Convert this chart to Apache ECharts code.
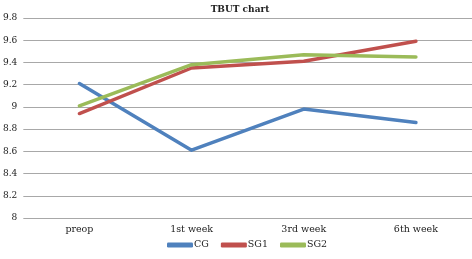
<!DOCTYPE html>
<html>
<head>
<meta charset="utf-8">
<script src="https://cdn.jsdelivr.net/npm/echarts@6/dist/echarts.min.js"></script>
<style>
  html, body { margin: 0; padding: 0; background: #fff; }
  #chart { width: 472px; height: 259px; }
</style>
</head>
<body>
<div id="chart"></div>
<script>
// 数据
const categories = ['preop', '1st week', '3rd week', '6th week']
const cgValues = [9.21, 8.61, 8.98, 8.86]
const sg1Values = [8.94, 9.35, 9.41, 9.59]
const sg2Values = [9.01, 9.38, 9.47, 9.45]

const fontFamily = "'DejaVu Serif', 'Liberation Serif', serif"

const chart = echarts.init(document.getElementById('chart'))

const makeLine = (name, data, color) => ({
  name: name,
  type: 'line',
  data: data,
  symbol: 'none',
  lineStyle: { width: 3.5, color: color, cap: 'round', join: 'round' },
  itemStyle: { color: color }
})

const option = {
  animation: false,
  title: {
    text: 'TBUT chart',
    left: 235,
    textAlign: 'center',
    top: 0,
    textStyle: { fontFamily: fontFamily, fontSize: 9, fontWeight: 'bold', color: '#222' }
  },
  legend: {
    bottom: 4,
    left: 162,
    itemWidth: 26,
    itemHeight: 5,
    itemGap: 12,
    icon: 'roundRect',
    textStyle: { fontFamily: fontFamily, fontSize: 9.5, color: '#222', padding: [0, 0, 0, -4] },
    data: ['CG', 'SG1', 'SG2']
  },
  grid: {
    left: 21,
    right: -1,
    top: 18,
    bottom: 41,
    containLabel: false
  },
  xAxis: {
    type: 'category',
    data: categories,
    boundaryGap: true,
    axisLine: { show: false },
    axisTick: { show: false },
    axisLabel: { fontFamily: fontFamily, fontSize: 9.5, color: '#222', margin: 7 }
  },
  yAxis: {
    type: 'value',
    min: 8,
    max: 9.8,
    interval: 0.2,
    axisLine: { show: false },
    axisTick: { show: false },
    axisLabel: {
      fontFamily: fontFamily, fontSize: 9, color: '#222', margin: 6,
      formatter: v => String(Math.round(v * 10) / 10)
    },
    splitLine: { lineStyle: { color: '#a8a8a8', width: 1 } }
  },
  series: [
    makeLine('CG', cgValues, '#4f81bd'),
    makeLine('SG1', sg1Values, '#c0504d'),
    makeLine('SG2', sg2Values, '#9bbb59')
  ]
}

chart.setOption(option)
</script>
</body>
</html>
